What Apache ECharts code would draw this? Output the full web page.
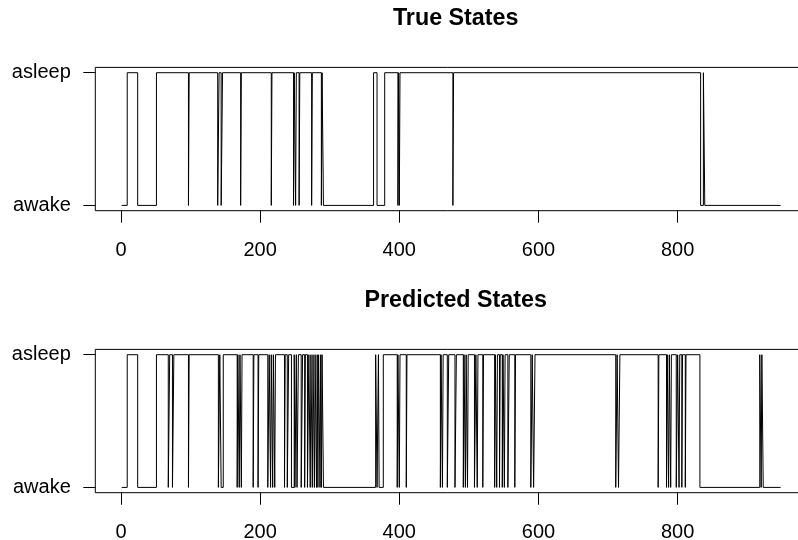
<!DOCTYPE html>
<html>
<head>
<meta charset="utf-8">
<script src="https://cdn.jsdelivr.net/npm/echarts@6/dist/echarts.min.js"></script>
<style>
  html, body { margin: 0; padding: 0; background: #fff; }
  #chart { width: 798px; height: 540px; }
</style>
</head>
<body>
<div id="chart"></div>
<script>
// ---- data (0 = awake, 1 = asleep); state changes at the given time index ----
const nObs = 948;
const trueTimes  = [1, 9, 24, 51, 97, 98, 139, 141, 144, 146, 172, 173, 216, 217, 248, 249, 251, 252, 256, 257, 274, 275, 288, 289, 291, 363, 368, 379, 398, 399, 400, 401, 477, 478, 833, 837, 839];
const trueStates = [0, 1, 0, 1, 0, 1, 0, 1, 0, 1, 0, 1, 0, 1, 0, 1, 0, 1, 0, 1, 0, 1, 0, 1, 0, 1, 0, 1, 0, 1, 0, 1, 0, 1, 0, 1, 0];

const predTimes = [1, 9, 24, 51, 68, 70, 74, 76, 97, 98,
  140, 142, 144, 147,
  167, 168, 170, 171, 173, 174,
  190, 191, 197, 198,
  211, 213, 215, 216, 218, 219, 221, 222,
  235, 236, 239, 241,
  245, 249, 250, 252, 253, 255,
  259, 261, 264, 265, 268, 270, 272, 273, 275, 276, 278, 279, 281, 282, 283, 284, 286, 287, 288, 289, 291,
  366, 368, 370, 371, 377,
  397, 398, 400, 401,
  410, 411,
  459, 460, 462, 463,
  469, 471, 480, 482,
  492, 493, 495, 496, 498, 499,
  508, 510, 512, 513,
  520, 521,
  537, 538, 540, 541, 544, 545, 548, 549, 551, 552, 556, 558,
  566, 567,
  589, 591, 593, 595,
  711, 713, 715, 717,
  772, 773,
  784, 785, 787, 788, 790, 791,
  798, 800, 802, 803,
  806, 807, 811, 812,
  832,
  918, 920, 921, 923];
const predStates = [0, 1, 0, 1, 0, 1, 0, 1, 0, 1,
  0, 1, 0, 1,
  0, 1, 0, 1, 0, 1,
  0, 1, 0, 1,
  0, 1, 0, 1, 0, 1, 0, 1,
  0, 1, 0, 1,
  0, 1, 0, 1, 0, 1,
  0, 1, 0, 1, 0, 1, 0, 1, 0, 1, 0, 1, 0, 1, 0, 1, 0, 1, 0, 1, 0,
  1, 0, 1, 0, 1,
  0, 1, 0, 1,
  0, 1,
  0, 1, 0, 1,
  0, 1, 0, 1,
  0, 1, 0, 1, 0, 1,
  0, 1, 0, 1,
  0, 1,
  0, 1, 0, 1, 0, 1, 0, 1, 0, 1, 0, 1,
  0, 1,
  0, 1, 0, 1,
  0, 1, 0, 1,
  0, 1,
  0, 1, 0, 1, 0, 1,
  0, 1, 0, 1,
  0, 1, 0, 1,
  0,
  1, 0, 1, 0];

const xTickValues = [0, 200, 400, 600, 800];
const yTickValues = [0, 1];
const yTickLabels = ['awake', 'asleep'];
const titles = ['True States', 'Predicted States'];

// ---- build step series data ----
function stepData(times, states) {
  const d = times.map((t, i) => [t, states[i]]);
  d.push([nObs, states[states.length - 1]]);
  return d;
}

const FONT = "'Liberation Sans', Arial, Helvetica, sans-serif";
const xMin = 1 - 0.04 * (nObs - 1);
const xMax = nObs + 0.04 * (nObs - 1);
const gridLeft = 95.3;
const gridWidth = 711.7;
const gridTops = [67.4, 349.4];
const gridHeight = 143.3;

function xAxisFor(i) {
  return {
    gridIndex: i, type: 'value', min: xMin, max: xMax, position: 'bottom',
    axisLine: { show: false, onZero: false },
    splitLine: { show: false },
    axisTick: { show: true, inside: false, length: 12, customValues: xTickValues,
                lineStyle: { color: '#000', width: 1 } },
    axisLabel: { show: true, customValues: xTickValues, margin: 30,
                 color: '#000', fontSize: 20, fontFamily: FONT }
  };
}
function yAxisFor(i) {
  return {
    gridIndex: i, type: 'value', min: -0.04, max: 1.04, position: 'left',
    axisLine: { show: false, onZero: false },
    splitLine: { show: false },
    axisTick: { show: true, inside: false, length: 12, customValues: yTickValues,
                lineStyle: { color: '#000', width: 1 } },
    axisLabel: { show: true, customValues: yTickValues, margin: 24.5,
                 color: '#000', fontSize: 20, fontFamily: FONT,
                 formatter: v => yTickLabels[yTickValues.indexOf(Math.round(v))] }
  };
}

const chart = echarts.init(document.getElementById('chart'), null, { renderer: 'canvas' });
chart.setOption({
  animation: false,
  backgroundColor: '#fff',
  title: [
    { text: titles[0], left: 450.7, top: 2, textAlign: 'center',
      textStyle: { fontSize: 23.3, fontWeight: 'bold', color: '#000', fontFamily: FONT } },
    { text: titles[1], left: 450.7, top: 284, textAlign: 'center',
      textStyle: { fontSize: 23.3, fontWeight: 'bold', color: '#000', fontFamily: FONT } }
  ],
  grid: gridTops.map(t => ({
    left: gridLeft, top: t, width: gridWidth, height: gridHeight,
    show: true, borderColor: '#000', borderWidth: 1, backgroundColor: 'transparent',
    containLabel: false, outerBoundsMode: 'none'
  })),
  xAxis: [xAxisFor(0), xAxisFor(1)],
  yAxis: [yAxisFor(0), yAxisFor(1)],
  series: [
    { type: 'line', xAxisIndex: 0, yAxisIndex: 0, step: 'end', showSymbol: false,
      data: stepData(trueTimes, trueStates),
      lineStyle: { color: '#000', width: 1 }, silent: true },
    { type: 'line', xAxisIndex: 1, yAxisIndex: 1, step: 'end', showSymbol: false,
      data: stepData(predTimes, predStates),
      lineStyle: { color: '#000', width: 1 }, silent: true }
  ]
});
</script>
</body>
</html>
